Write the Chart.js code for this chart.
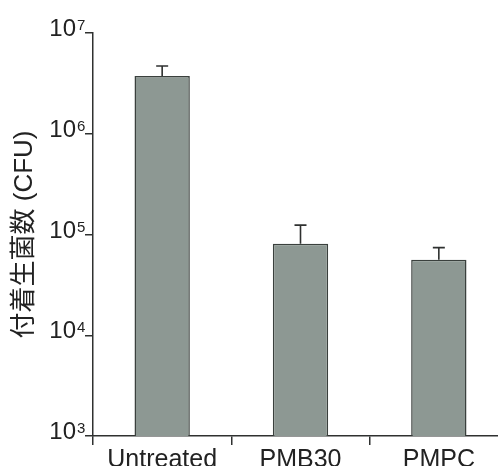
<!DOCTYPE html>
<html>
<head>
<meta charset="utf-8">
<script src="https://cdn.jsdelivr.net/npm/chart.js@4"></script>
<style>
  html, body { margin: 0; padding: 0; background: #fff; overflow: hidden; }
</style>
</head>
<body>
<canvas id="cfuChart" width="512" height="466"></canvas>
<script>
// data
const groups = ["Untreated", "PMB30", "PMPC"];
const cfuMean = [3.75e6, 8.1e4, 5.6e4];
const cfuUpper = [4.7e6, 1.24e5, 7.4e4];  // top of the error bar
const decades = [3, 4, 5, 6, 7];

const ink = "#2f3130";
const fontFam = '"Liberation Sans", "Noto Sans CJK JP", sans-serif';

// upper error bars, placed through the scales
const errorBars = {
    id: "errorBars",
    afterDatasetsDraw(chart) {
        const ctx = chart.ctx;
        const yScale = chart.scales.y;
        const meta = chart.getDatasetMeta(0);
        ctx.save();
        ctx.strokeStyle = ink;
        ctx.lineWidth = 1.6;
        meta.data.forEach((bar, i) => {
            const yTop = yScale.getPixelForValue(cfuUpper[i]);
            const yBar = yScale.getPixelForValue(cfuMean[i]);
            ctx.beginPath();
            ctx.moveTo(bar.x, yBar);
            ctx.lineTo(bar.x, yTop);
            ctx.moveTo(bar.x - 6, yTop);
            ctx.lineTo(bar.x + 6, yTop);
            ctx.stroke();
        });
        ctx.restore();
    }
};

// 10^n tick labels with a raised exponent
const powerLabels = {
    id: "powerLabels",
    afterDraw(chart) {
        const ctx = chart.ctx;
        const yScale = chart.scales.y;
        const right = yScale.right - 17;
        ctx.save();
        ctx.fillStyle = "#222";
        decades.forEach(n => {
            const y = yScale.getPixelForValue(Math.pow(10, n));
            ctx.font = "24px " + fontFam;
            ctx.textAlign = "right";
            ctx.textBaseline = "alphabetic";
            ctx.fillText("10", right, y + 3);
            ctx.font = "15px " + fontFam;
            ctx.textAlign = "left";
            ctx.fillText(String(n), right + 1, y - 3);
        });
        ctx.restore();
    }
};

const ctx = document.getElementById("cfuChart").getContext("2d");
new Chart(ctx, {
    type: "bar",
    data: {
        labels: groups,
        datasets: [{
            data: cfuMean,
            backgroundColor: "#8d9893",
            borderColor: "#3a403d",
            borderWidth: 1.5,
            barPercentage: 0.4,
            categoryPercentage: 1.0
        }]
    },
    options: {
        responsive: false,
        animation: false,
        layout: { padding: { top: 33, left: 0, right: 4, bottom: 0 } },
        plugins: {
            legend: { display: false },
            tooltip: { enabled: false }
        },
        scales: {
            x: {
                offset: true,
                grid: {
                    offset: true,
                    drawOnChartArea: false,
                    tickLength: 9,
                    color: ink,
                    lineWidth: 1.5
                },
                border: { color: ink, width: 1.5 },
                ticks: {
                    color: "#222",
                    padding: 0,
                    font: { family: fontFam, size: 25 }
                },
                afterFit(scale) { scale.height = 30; }
            },
            y: {
                type: "logarithmic",
                min: 1e3,
                max: 1e7,
                afterBuildTicks(scale) {
                    scale.ticks = decades.map(n => ({ value: Math.pow(10, n), major: true }));
                },
                grid: {
                    drawOnChartArea: false,
                    tickLength: 8,
                    color: ink,
                    lineWidth: 1.5
                },
                border: { color: ink, width: 1.5 },
                ticks: { display: false },
                title: {
                    display: true,
                    text: "付着生菌数 (CFU)",
                    color: "#222",
                    padding: { top: 9, bottom: 0 },
                    font: { family: fontFam, size: 26 }
                },
                afterFit(scale) { scale.width = 93; }
            }
        }
    },
    plugins: [errorBars, powerLabels]
});
</script>
</body>
</html>
